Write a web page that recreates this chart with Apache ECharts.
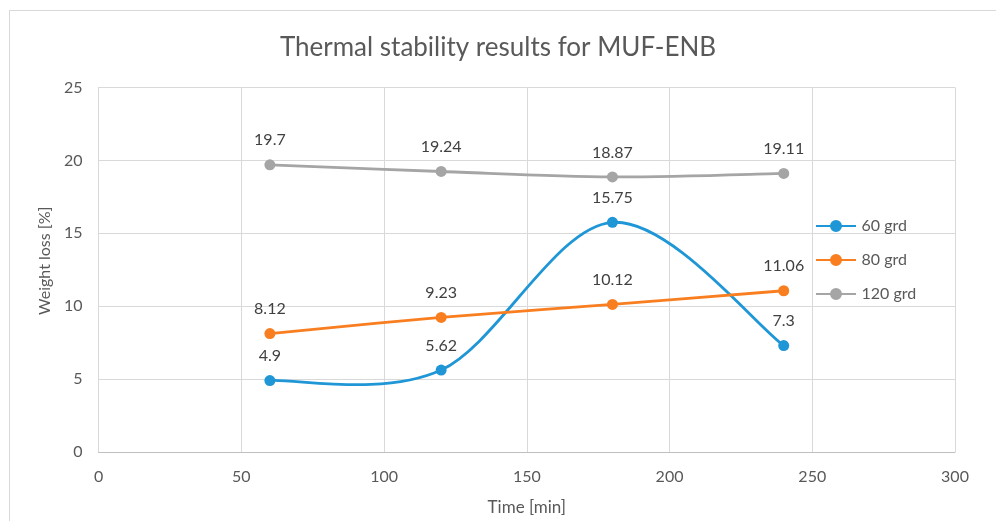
<!DOCTYPE html>
<html>
<head>
<meta charset="utf-8">
<script src="https://cdn.jsdelivr.net/npm/echarts@6/dist/echarts.min.js"></script>
<style>
  html, body { margin: 0; padding: 0; background: #fff; }
  #frame { position: absolute; left: 9px; top: 10px; width: 1000px; height: 520px; border: 1px solid #d9d9d9; box-sizing: border-box; }
  #chart { position: absolute; left: 0; top: 0; width: 996px; height: 521px; }
</style>
</head>
<body>
<div id="frame"></div>
<div id="chart"></div>
<script>
// Measurement times (min) and weight loss (%) at each temperature
const times = [60, 120, 180, 240];
const loss60 = [4.9, 5.62, 15.75, 7.3];
const loss80 = [8.12, 9.23, 10.12, 11.06];
const loss120 = [19.7, 19.24, 18.87, 19.11];
const seriesNames = ['60 grd', '80 grd', '120 grd'];
const colors = ['#1f96d6', '#f97e20', '#a5a5a5'];

const pair = (ys) => times.map((t, i) => [t, ys[i]]);
const FONT = 'Lato, "Open Sans", sans-serif';
const LINE_W = 2.8;

// Cardinal-spline path through the points (tangent = (next - prev) / 6),
// computed in pixel space from the axis scales.
function smoothPath(api, ys) {
  const p = times.map((t, i) => api.coord([t, ys[i]]));
  const n = p.length;
  let d = 'M' + p[0][0] + ',' + p[0][1];
  for (let i = 0; i < n - 1; i++) {
    const a = p[Math.max(i - 1, 0)], b = p[i], c = p[i + 1], e = p[Math.min(i + 2, n - 1)];
    const c1 = [b[0] + (c[0] - a[0]) / 6, b[1] + (c[1] - a[1]) / 6];
    const c2 = [c[0] - (e[0] - b[0]) / 6, c[1] - (e[1] - b[1]) / 6];
    d += ' C' + c1[0] + ',' + c1[1] + ' ' + c2[0] + ',' + c2[1] + ' ' + c[0] + ',' + c[1];
  }
  return d;
}

const curveSeries = (idx, ys) => ({
  name: seriesNames[idx] + ' curve',
  type: 'custom',
  silent: true,
  z: 2 + idx * 2,
  data: [0],
  renderItem: (params, api) => ({
    type: 'path',
    shape: { pathData: smoothPath(api, ys) },
    style: { stroke: colors[idx], lineWidth: LINE_W, fill: 'none' }
  })
});

const pointSeries = (idx, ys) => ({
  name: seriesNames[idx],
  type: 'line',
  z: 3 + idx * 2,
  data: pair(ys),
  symbol: 'circle',
  symbolSize: 11,
  lineStyle: { width: 0, opacity: 0, color: colors[idx] },
  itemStyle: { color: colors[idx] },
  label: {
    show: true, position: 'top', distance: 11,
    color: '#404040', fontSize: 16, fontFamily: FONT,
    formatter: (p) => String(p.value[1])
  }
});

const chart = echarts.init(document.getElementById('chart'));
chart.setOption({
  animation: false,
  title: {
    text: 'Thermal stability results for MUF-ENB',
    left: 'center', top: 30,
    textStyle: { color: '#595959', fontSize: 26, fontWeight: 'normal', fontFamily: FONT }
  },
  legend: {
    orient: 'vertical', left: 811, top: 213, itemGap: 18,
    itemWidth: 41, itemHeight: 12,
    icon: 'path://M0,5 L40,5 L40,7 L0,7 Z M20,0 A6,6 0 1 1 19.99,0 Z',
    textStyle: { color: '#595959', fontSize: 16, fontFamily: FONT },
    data: seriesNames
  },
  grid: { left: 98.6, right: 41, top: 87.5, bottom: 68, containLabel: false },
  xAxis: {
    type: 'value', min: 0, max: 300, interval: 50,
    name: 'Time [min]', nameLocation: 'middle', nameGap: 47,
    nameTextStyle: { color: '#595959', fontSize: 17, fontFamily: FONT },
    axisLine: { show: true, lineStyle: { color: '#bfbfbf', width: 1 } },
    axisTick: { show: false },
    axisLabel: { color: '#595959', fontSize: 16, fontFamily: FONT, margin: 17 },
    splitLine: { show: true, lineStyle: { color: '#d9d9d9', width: 1 } }
  },
  yAxis: {
    type: 'value', min: 0, max: 25, interval: 5,
    name: 'Weight loss [%]', nameLocation: 'middle', nameGap: 45,
    nameTextStyle: { color: '#595959', fontSize: 16, fontFamily: FONT, padding: [0, 0, 0, 18] },
    axisLine: { show: true, lineStyle: { color: '#d9d9d9', width: 1 } },
    axisTick: { show: false },
    axisLabel: { color: '#595959', fontSize: 16, fontFamily: FONT, margin: 16 },
    splitLine: { show: true, lineStyle: { color: '#d9d9d9', width: 1 } }
  },
  series: [
    curveSeries(0, loss60), pointSeries(0, loss60),
    curveSeries(1, loss80), pointSeries(1, loss80),
    curveSeries(2, loss120), pointSeries(2, loss120)
  ]
});
</script>
</body>
</html>
